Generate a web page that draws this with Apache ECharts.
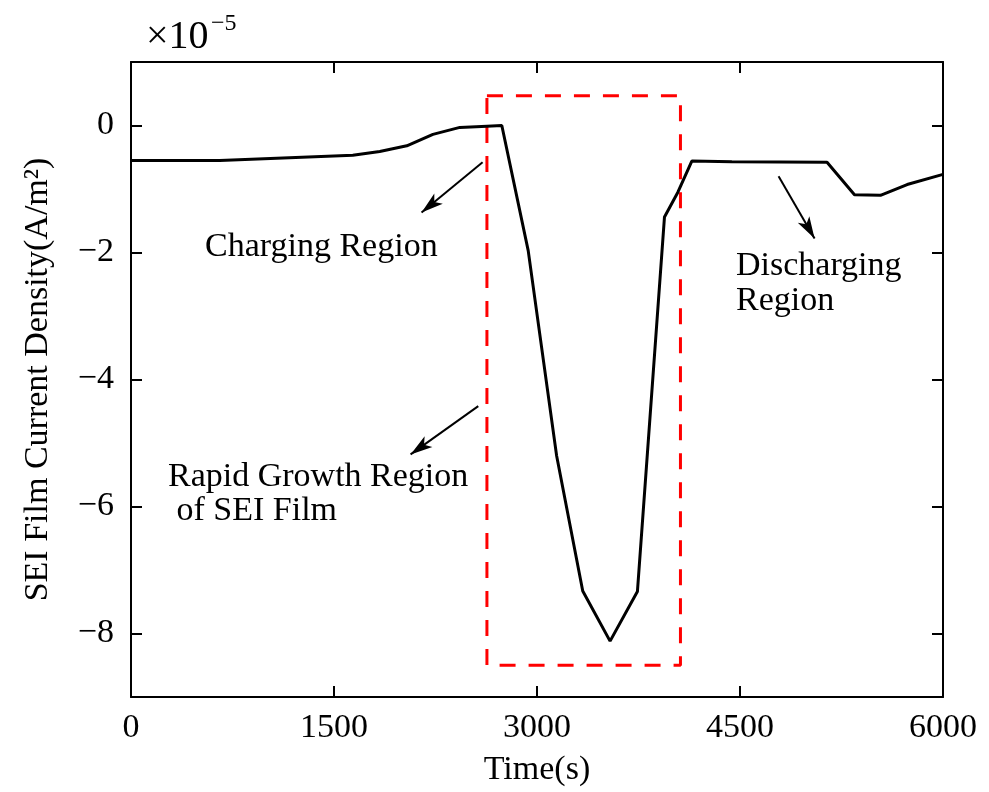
<!DOCTYPE html>
<html>
<head>
<meta charset="utf-8">
<script src="https://cdn.jsdelivr.net/npm/echarts@6/dist/echarts.min.js"></script>
<style>
  html, body { margin: 0; padding: 0; background: #fff; }
  #chart { width: 989px; height: 792px; }
</style>
</head>
<body>
<div id="chart"></div>
<script>
// SEI film current density over one charge/discharge cycle (values in units of 1e-5 A/m^2)
const timeS = [0, 655, 1639, 1838, 2038, 2231, 2430, 2630, 2740, 2935, 3145, 3338, 3540, 3742, 3942, 4041, 4144, 4440, 5143, 5346, 5538, 5735, 6000];
const densityE5 = [-0.55, -0.55, -0.47, -0.41, -0.32, -0.14, -0.03, -0.01, 0, -1.97, -5.2, -7.33, -8.12, -7.34, -1.44, -1.05, -0.56, -0.57, -0.58, -1.09, -1.10, -0.93, -0.77];

// axis ticks
const xTicks = [0, 1500, 3000, 4500, 6000];
const yTicks = [0, -2, -4, -6, -8];

// highlighted rapid-growth window (time range, density range)
const boxT = [2630, 4060];
const boxV = [-8.5, 0.47];

// annotation arrows: tail -> head, in data units
const arrowTail = [[2598, -0.58], [2566, -4.42], [4785, -0.80]];
const arrowHead = [[2147, -1.37], [2066, -5.18], [5051, -1.78]];

const FONT = "'Liberation Serif', 'Times New Roman', serif";
const minus = v => (v < 0 ? '\u2212' + Math.abs(v) : String(v));

const curve = timeS.map((t, i) => [t, densityE5[i]]);
const box = [
  [boxT[0], boxV[1]], [boxT[1], boxV[1]], [boxT[1], boxV[0]],
  [boxT[0], boxV[0]], [boxT[0], boxV[1]]
];
const arrows = arrowTail.map((a, i) => [{ coord: a }, { coord: arrowHead[i] }]);

const axisLine = { show: true, onZero: false, lineStyle: { color: '#000', width: 2 } };
const tickStyle = { inside: true, length: 11, lineStyle: { color: '#000', width: 2 } };

const chart = echarts.init(document.getElementById('chart'), null, { renderer: 'canvas' });
chart.setOption({
  animation: false,
  backgroundColor: '#fff',
  grid: { left: 131, right: 46, top: 62, bottom: 93, containLabel: false },
  xAxis: [
    {
      type: 'value', min: 0, max: 6000, interval: 1500,
      name: 'Time(s)', nameLocation: 'middle', nameGap: 56,
      nameTextStyle: { fontFamily: FONT, fontSize: 34, color: '#000' },
      axisLine, axisTick: Object.assign({ customValues: xTicks }, tickStyle), splitLine: { show: false },
      axisLabel: { customValues: xTicks, margin: 14, fontFamily: FONT, fontSize: 34, color: '#000', formatter: v => String(v) }
    },
    {
      type: 'value', position: 'top', min: 0, max: 6000, interval: 1500,
      axisLine, axisTick: Object.assign({ customValues: xTicks }, tickStyle), splitLine: { show: false },
      axisLabel: { show: false }
    }
  ],
  yAxis: [
    {
      type: 'value', min: -9, max: 1,
      name: 'SEI Film Current Density(A/m\u00B2)', nameLocation: 'middle', nameGap: 76,
      nameTextStyle: { fontFamily: FONT, fontSize: 34, color: '#000' },
      axisLine,
      axisTick: Object.assign({ customValues: yTicks }, tickStyle),
      splitLine: { show: false },
      axisLabel: { customValues: yTicks, margin: 17, fontFamily: FONT, fontSize: 34, color: '#000', formatter: minus }
    },
    {
      type: 'value', position: 'right', min: -9, max: 1,
      axisLine,
      axisTick: Object.assign({ customValues: yTicks }, tickStyle),
      splitLine: { show: false },
      axisLabel: { show: false }
    }
  ],
  series: [
    {
      name: 'SEI current density', type: 'line', data: curve,
      showSymbol: false, symbol: 'none', smooth: false,
      lineStyle: { color: '#000', width: 3 }, z: 5
    },
    {
      name: 'window', type: 'line', data: box,
      showSymbol: false, symbol: 'none',
      lineStyle: { color: '#ff0000', width: 3, type: [16, 13] }, z: 4
    },
    {
      name: 'notes', type: 'line', data: [],
      markLine: {
        silent: true, symbol: ['none', 'arrow'], symbolSize: [10, 22],
        lineStyle: { color: '#000', width: 2, type: 'solid' },
        label: { show: false },
        data: arrows
      }
    }
  ],
  graphic: [
    { type: 'text', left: 146, top: 17, style: { text: '\u00D710', font: '40px ' + FONT, fill: '#000' } },
    { type: 'text', left: 211, top: 12, style: { text: '\u22125', font: '24px ' + FONT, fill: '#000' } },
    { type: 'text', left: 205, top: 230, style: { text: 'Charging Region', font: '34px ' + FONT, fill: '#000' } },
    { type: 'text', left: 736, top: 249, style: { text: 'Discharging\nRegion', font: '34px ' + FONT, fill: '#000', lineHeight: 35 } },
    { type: 'text', left: 168, top: 460, style: { text: 'Rapid Growth Region\n of SEI Film', font: '34px ' + FONT, fill: '#000', lineHeight: 34 } }
  ]
});
</script>
</body>
</html>
